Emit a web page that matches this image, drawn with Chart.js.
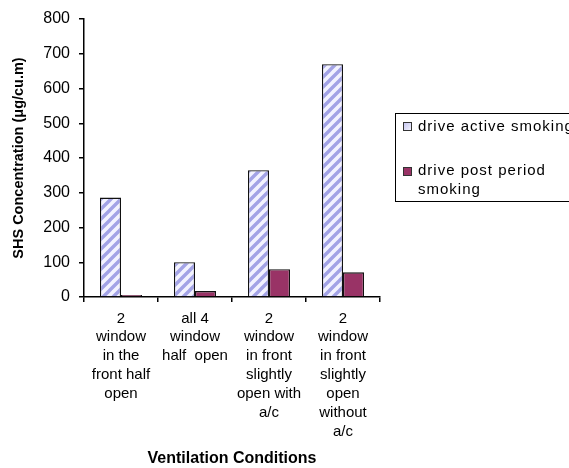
<!DOCTYPE html>
<html>
<head>
<meta charset="utf-8">
<script src="https://cdn.jsdelivr.net/npm/chart.js@4/dist/chart.umd.min.js"></script>
<style>
  html, body { margin: 0; padding: 0; background: #fff; }
  #wrap { width: 569px; height: 468px; position: relative; }
</style>
</head>
<body>
<div id="wrap"><canvas id="c" width="569" height="468"></canvas></div>
<script>
// Ventilation conditions (multi-line category labels)
const categories = [
  ["2", "window", "in the", "front half", "open"],
  ["all 4", "window", "half  open"],
  ["2", "window", "in front", "slightly", "open with", "a/c"],
  ["2", "window", "in front", "slightly", "open", "without", "a/c"]
];
const seriesNames = ["drive active smoking", "drive post period smoking"];
const activeSmoking = [286, 100, 365, 670];
const postPeriodSmoking = [6, 17, 80, 71];
const yTicks = [0, 100, 200, 300, 400, 500, 600, 700, 800];

const FONT = "'Liberation Sans', Arial, sans-serif";

// Diagonal hatch used for the active-smoking bars
function makeHatch() {
  const s = 10;
  const t = document.createElement('canvas');
  t.width = s; t.height = s;
  const g = t.getContext('2d');
  g.fillStyle = '#f3f3ff';
  g.fillRect(0, 0, s, s);
  g.strokeStyle = '#a3a3e6';
  g.lineWidth = 3.4;
  g.beginPath();
  for (let k = -1; k <= 1; k++) {
    g.moveTo(k * s - 1, s + 1);
    g.lineTo(k * s + s + 1, -1);
  }
  g.stroke();
  return document.getElementById('c').getContext('2d').createPattern(t, 'repeat');
}
const hatch = makeHatch();

// Boxed legend on the right, clipped by the canvas edge
const boxLegend = {
  id: 'boxLegend',
  afterDraw(chart) {
    const ctx = chart.ctx;
    ctx.save();
    ctx.strokeStyle = '#000';
    ctx.lineWidth = 1;
    ctx.strokeRect(395.5, 113.5, 220, 88);
    ctx.font = '15px ' + FONT;
    ctx.letterSpacing = '1px';
    ctx.fillStyle = '#000';
    ctx.textBaseline = 'middle';
    ctx.textAlign = 'left';
    // marker 1
    const grd = ctx.createLinearGradient(403, 122, 412, 131);
    grd.addColorStop(0, '#c0c0ee');
    grd.addColorStop(1, '#f6f6ff');
    ctx.fillStyle = grd;
    ctx.fillRect(403, 122, 9, 9);
    ctx.strokeStyle = '#333';
    ctx.strokeRect(403.5, 122.5, 8, 8);
    ctx.fillStyle = '#000';
    ctx.fillText(seriesNames[0], 418, 127);
    // marker 2
    ctx.fillStyle = '#993366';
    ctx.fillRect(403, 167, 9, 9);
    ctx.strokeStyle = '#333';
    ctx.strokeRect(403.5, 167.5, 8, 8);
    ctx.fillStyle = '#000';
    ctx.fillText('drive post period', 418, 171);
    ctx.fillText('smoking', 418, 190);
    ctx.restore();
  }
};

new Chart(document.getElementById('c'), {
  type: 'bar',
  data: {
    labels: categories,
    datasets: [
      {
        label: seriesNames[0],
        data: activeSmoking,
        backgroundColor: hatch,
        borderColor: '#111',
        borderWidth: 1.3,
        borderSkipped: 'bottom'
      },
      {
        label: seriesNames[1],
        data: postPeriodSmoking,
        backgroundColor: '#993366',
        borderColor: '#111',
        borderWidth: 1.3,
        borderSkipped: 'bottom'
      }
    ]
  },
  options: {
    responsive: false,
    animation: false,
    devicePixelRatio: 1,
    layout: { padding: { left: 0, right: 189, top: 19, bottom: 0 } },
    datasets: { bar: { categoryPercentage: 0.568, barPercentage: 1 } },
    plugins: {
      legend: { display: false },
      tooltip: { enabled: false }
    },
    scales: {
      x: {
        offset: true,
        grid: { offset: true, drawOnChartArea: false, drawTicks: true, tickLength: 5, color: '#000', lineWidth: 1.5 },
        border: { color: '#000', width: 1.5 },
        ticks: {
          color: '#000',
          font: { family: FONT, size: 15, lineHeight: 1.26 },
          padding: 7,
          maxRotation: 0,
          autoSkip: false
        },
        title: {
          display: true,
          text: 'Ventilation Conditions',
          color: '#000',
          font: { family: FONT, size: 16, weight: 'bold' },
          padding: { top: 0, bottom: 0 }
        },
        afterFit(scale) { scale.height = 171; }
      },
      y: {
        min: 0,
        max: 800,
        afterBuildTicks(scale) { scale.ticks = yTicks.map(v => ({ value: v })); },
        grid: { drawOnChartArea: false, drawTicks: true, tickLength: 5, color: '#000', lineWidth: 1.5 },
        border: { color: '#000', width: 1.5 },
        ticks: {
          color: '#000',
          font: { family: FONT, size: 16 },
          padding: 9
        },
        title: {
          display: true,
          text: 'SHS Concentration (μg/cu.m)',
          color: '#000',
          font: { family: FONT, size: 14.5, weight: 'bold' },
          padding: { top: 10, bottom: 0 }
        },
        afterFit(scale) { scale.width = 84; }
      }
    }
  },
  plugins: [boxLegend]
});
</script>
</body>
</html>
